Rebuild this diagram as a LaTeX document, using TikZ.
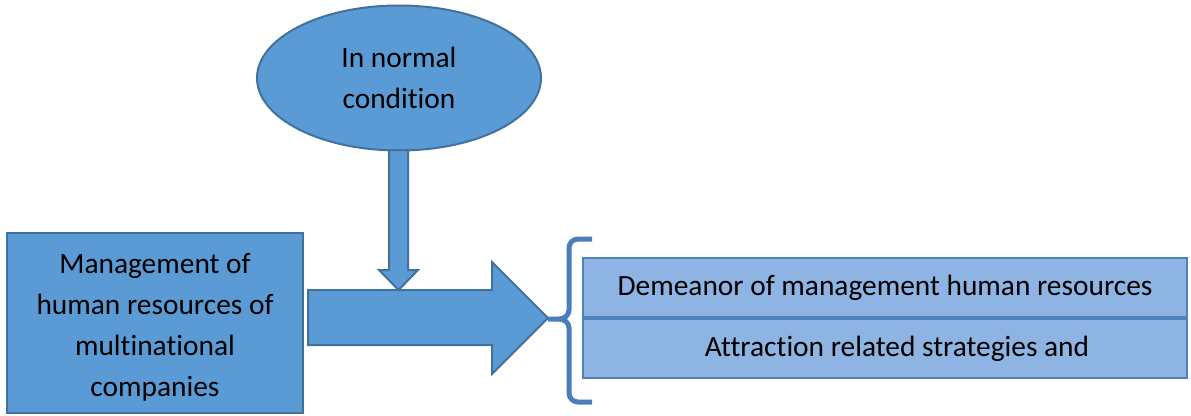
\documentclass[tikz,border=0pt]{standalone}
\usepackage{fontspec}
\setmainfont[RawFeature={-liga;-clig;-dlig;-calt;-rlig}]{Carlito}
\usetikzlibrary{shapes.geometric}
\definecolor{blockfill}{HTML}{5B9BD5}
\definecolor{blockline}{HTML}{41719C}
\definecolor{listfill}{HTML}{8EB4E3}
\definecolor{listline}{HTML}{4F81BD}
\definecolor{braceline}{HTML}{4A7EBB}
\tikzset{
  shapefill/.style={fill=blockfill, draw=blockline, line width=2pt, line join=miter},
  txt/.style={font=\fontsize{29.4}{41}\selectfont, text=black, align=center},
  listbox/.style={fill=listfill, draw=listline, line width=2pt, minimum width=604pt, minimum height=59pt, inner sep=0pt},
}
\begin{document}
\begin{tikzpicture}[x=1pt,y=-1pt]
\useasboundingbox (0,0) rectangle (1191,415);
% condition ellipse
\node[shapefill, ellipse, minimum width=284pt, minimum height=145pt, inner sep=0pt, txt] (cond) at (399,78) {In normal\\condition};
% downward block arrow
\path[shapefill] (389,150) -- (389,270) -- (379,270) -- (398.5,290) -- (418,270) -- (408,270) -- (408,150) -- cycle;
% source box
\node[shapefill, rectangle, minimum width=296pt, minimum height=180pt, inner sep=0pt, txt] (mgmt) at (155,323) {};
\node[txt, anchor=center] (mgmttext) at (155,327) {Management of\\human resources of\\multinational\\companies};
% main right block arrow
\path[shapefill] (308,290) -- (492,290) -- (492,262) -- (548,318) -- (492,374) -- (492,345) -- (308,345) -- cycle;
\coordinate (tip) at (548,319);
% left brace
\draw[braceline, line width=5pt, line cap=butt] (592,239) -- (578,239) to[out=180,in=90] (569,248) -- (569,310) to[out=-90,in=0] (559,319) -- (tip);
\draw[braceline, line width=5pt, line cap=butt] (559,319) to[out=0,in=90] (569,328) -- (569,393) to[out=-90,in=180] (578,402) -- (592,402);
% listed outcomes
\node[listbox, txt] (dem) at (885,287.5) {\raisebox{-2pt}{Demeanor of management human resources}};
\node[listbox, txt, anchor=north] (attr) at (dem.south) {\hspace*{24pt}Attraction related strategies and};
\end{tikzpicture}
\end{document}
